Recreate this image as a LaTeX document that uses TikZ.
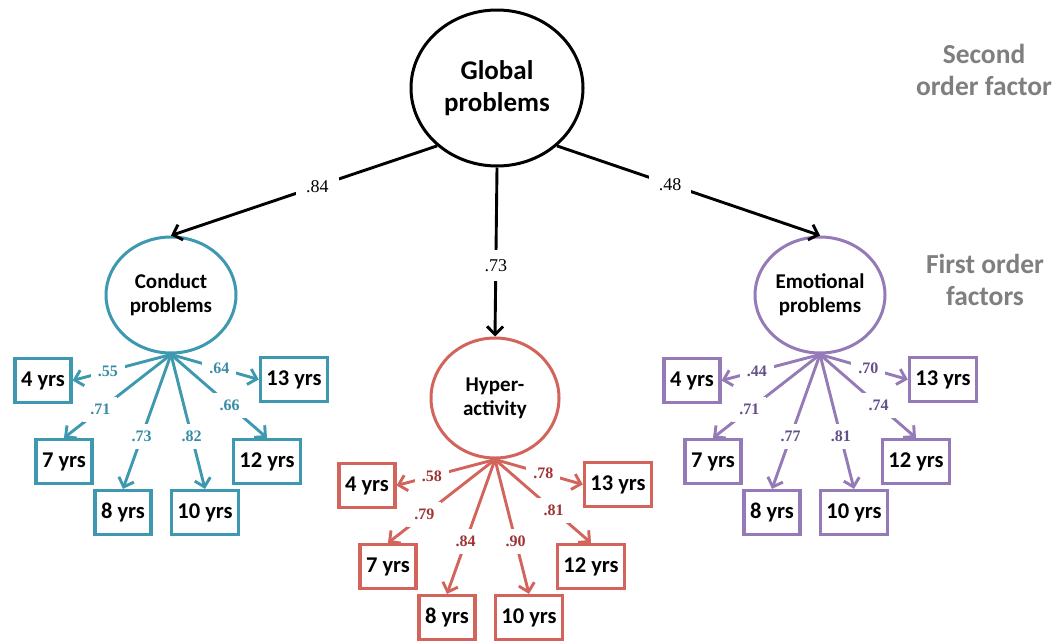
\documentclass[tikz,border=0pt]{standalone}
\usepackage{fontspec}
\setmainfont{Carlito}
\newfontfamily\loadfont{Liberation Serif}
\usetikzlibrary{arrows.meta,shapes.geometric,calc}
\definecolor{cpline}{RGB}{62,152,176}
\definecolor{cptext}{RGB}{58,140,166}
\definecolor{haline}{RGB}{210,100,92}
\definecolor{hatext}{RGB}{160,52,52}
\definecolor{epline}{RGB}{148,122,182}
\definecolor{eptext}{RGB}{100,80,136}
\definecolor{lvlgrey}{RGB}{127,127,127}

\begin{document}
\begin{tikzpicture}[x=1pt, y=-1pt,
  factor/.style={ellipse, draw, line width=3pt, inner sep=0, align=center,
                 minimum width=130pt, minimum height=116pt,
                 font=\fontsize{21}{24}\selectfont\bfseries},
  ybox/.style={draw, line width=3.2pt, minimum height=44pt, inner xsep=6pt, inner ysep=0pt,
               font=\fontsize{22.5}{24}\selectfont\bfseries},
  path2/.style={line width=2.9pt, -{Straight Barb[length=8pt, width=16pt]}},
  lbl/.style={fill=white, inner xsep=7pt, inner ysep=7pt,
              font=\fontsize{16}{18}\selectfont\loadfont\bfseries},
  toplbl/.style={fill=white, inner xsep=10pt, inner ysep=9pt,
                 font=\fontsize{18}{20}\selectfont\loadfont},
  lvl/.style={text=lvlgrey, align=center, font=\fontsize{27.5}{32}\selectfont\bfseries},
]
\useasboundingbox (0,0) rectangle (1060,640);
% second order factor
\node[factor, minimum width=172pt, minimum height=156pt,
      font=\fontsize{27}{32}\selectfont\bfseries] (glob) at (497,88) {Global\\problems};
% first order factors
\node[factor, draw=cpline] (cond) at (171,295) {Conduct\\problems};
\node[factor, draw=haline, minimum width=128pt, minimum height=120pt] (hyp) at (495,398) {Hyper-\\activity};
\node[factor, draw=epline] (emo) at (820,295) {Emotional\\problems};
% level captions
\node[lvl] (second) at (984,70) {Second\\order factor};
\node[lvl] (first) at (985,280) {First order\\factors};
% ---- indicators: one box per age, hung from the foot of each factor
\foreach \f/\c in {cond/cpline, hyp/haline, emo/epline} {
  \foreach \age/\dx/\dy in {4/-128/26, 13/123/25, 7/-107/107, 12/96/107, 8/-48/158, 10/34/158} {
    \node[ybox, draw=\c] (\f\age) at ($(\f.south)+(\dx,\dy)$) {\age{} yrs};
  }
}
% ---- second order loadings
\draw[path2] (glob.224) -- node[toplbl, pos=.45] {.84} (cond.north);
\draw[path2] (glob.south) -- node[toplbl, pos=.58] {.73} (hyp.north);
\draw[path2] (glob.316) -- node[toplbl, pos=.43] {.48} (emo.north);
% ---- first order loadings
\foreach \f/\lcol/\tcol/\lA/\lB/\lC/\lD/\lE/\lF in {
    cond/cpline/cptext/.55/.64/.71/.66/.73/.82,
    hyp/haline/hatext/.58/.78/.79/.81/.84/.90,
    emo/epline/eptext/.44/.70/.71/.74/.77/.81} {
  \draw[path2, draw=\lcol] (\f.south) -- node[lbl, pos=.64, text=\tcol] {\lA} (\f4.east);
  \draw[path2, draw=\lcol] (\f.south) -- node[lbl, pos=.55, text=\tcol] {\lB} (\f13.west);
  \draw[path2, draw=\lcol] (\f.south) -- node[lbl, pos=.66, text=\tcol] {\lC} (\f7.north);
  \draw[path2, draw=\lcol] (\f.south) -- node[lbl, pos=.61, text=\tcol] {\lD} (\f12.north);
  \draw[path2, draw=\lcol] (\f.south) -- node[lbl, pos=.61, text=\tcol] {\lE} (\f8.north);
  \draw[path2, draw=\lcol] (\f.south) -- node[lbl, pos=.61, text=\tcol] {\lF} (\f10.north);
}
\end{tikzpicture}
\end{document}
